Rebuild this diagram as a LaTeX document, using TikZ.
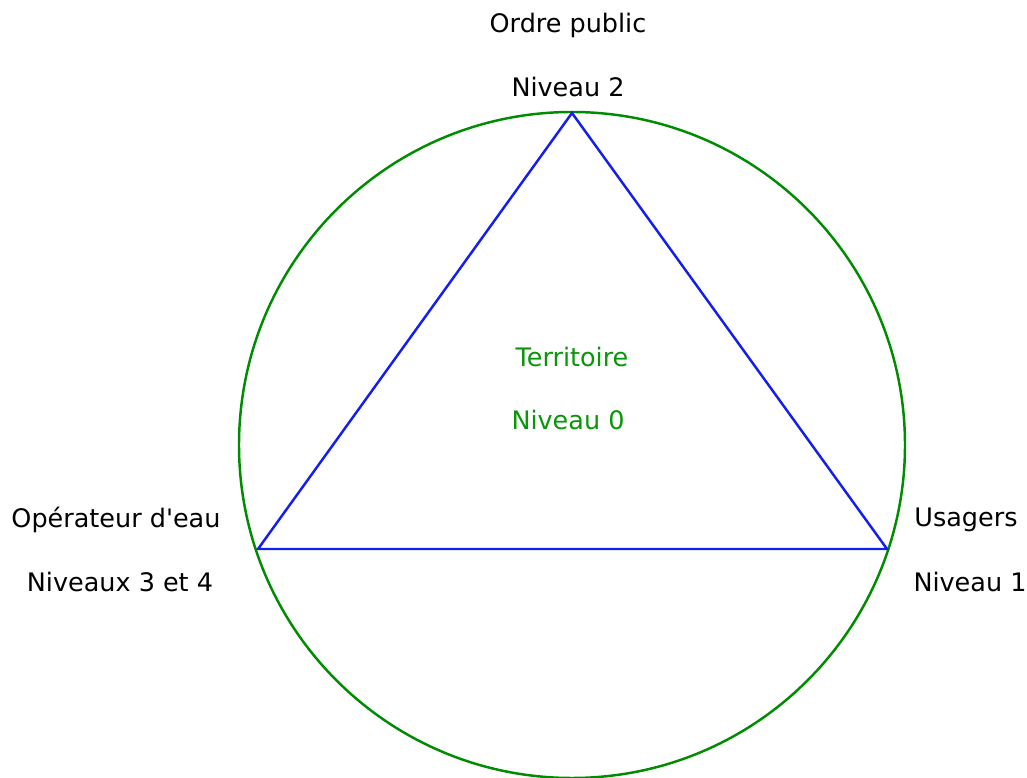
\documentclass[tikz,border=0pt]{standalone}
\usepackage{fontspec}
\setmainfont{DejaVu Sans}[Ligatures=TeXOff]
\usepackage{tikz}
\usetikzlibrary{positioning}
\usepackage{xcolor}
\definecolor{cerclevert}{RGB}{0,140,0}
\definecolor{textevert}{RGB}{10,150,10}
\definecolor{trianglebleu}{RGB}{20,30,240}
\tikzset{
	label/.style={inner sep=0pt, font=\fontsize{14.5}{17}\selectfont},
	centre/.style={label, text=textevert},
	cercle/.style={draw=cerclevert, line width=1.4pt},
	triangle/.style={draw=trianglebleu, line width=1.4pt, line join=miter}
}

\begin{document}
\begin{tikzpicture}
		\useasboundingbox (0,0) rectangle (20.54,15.56);
		
		\draw[cercle] (11.44,6.66) circle (6.66);
		
		\coordinate (haut) at (11.44,13.30);
		\coordinate (gauche) at (5.16,4.58);
		\coordinate (droite) at (17.74,4.58);
		
		\draw[triangle] (haut) -- (droite) -- (gauche) -- cycle;
		
		\node[label] (ordre) at (11.36,15.06) {Ordre public};
		\node[label] (niv2) at (11.36,13.82) {Niveau 2};
		
		\node[centre] (territoire) at (11.44,8.42) {Territoire};
		\node[centre] (niv0) at (11.36,7.16) {Niveau 0};
		
		\node[label] (operateur) at (2.32,5.16) {Opérateur d'eau};
		\node[label] (niv34) at (2.40,3.92) {Niveaux 3 et 4};
		
		\node[label] (usagers) at (19.32,5.16) {Usagers};
		\node[label] (niv1) at (19.40,3.92) {Niveau 1};
	\end{tikzpicture}
\end{document}
